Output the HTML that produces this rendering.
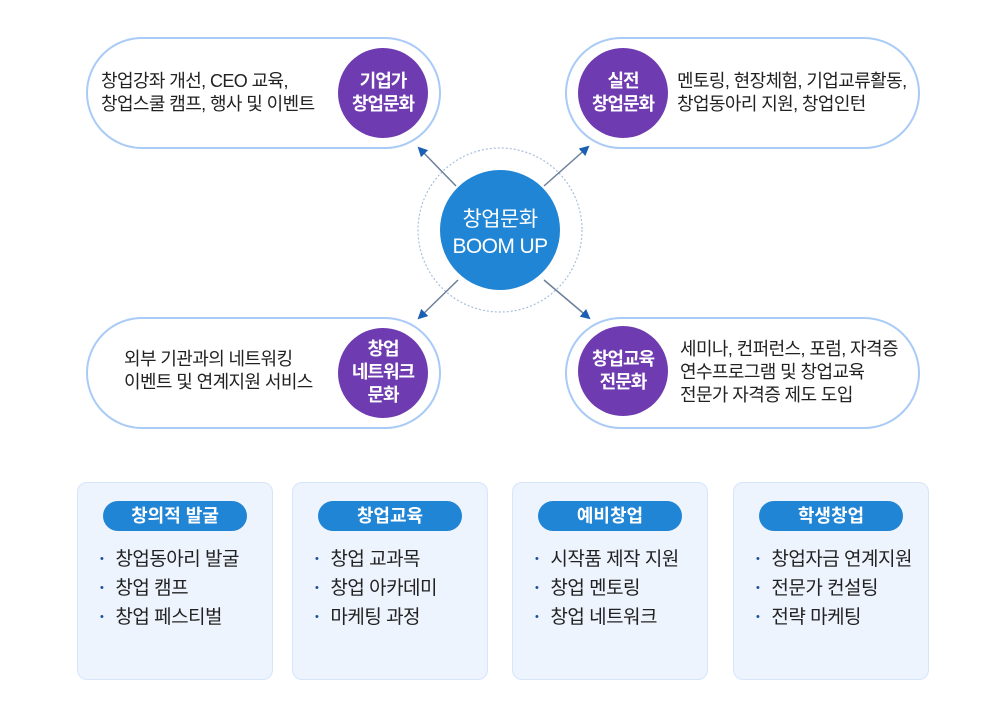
<!DOCTYPE html>
<html><head><meta charset="utf-8"><style>
html,body{margin:0;padding:0;background:#fff;}
body{width:1000px;height:720px;overflow:hidden;position:relative;font-family:"Liberation Sans","Noto Sans CJK KR",sans-serif;}
.t{position:absolute;font-size:18px;line-height:23px;color:#222;letter-spacing:-0.6px;white-space:nowrap;}
.box{position:absolute;top:482px;width:194px;height:196px;background:#eef4fe;border:1px solid #d6e5fa;border-radius:10px;}
.lab{position:absolute;left:25px;top:18px;width:144px;height:30px;border-radius:15px;background:#2185d5;color:#fff;font-size:18px;font-weight:bold;text-align:center;line-height:30px;}
.box ul{position:absolute;left:22px;top:62px;margin:0;padding:0;list-style:none;}
.box li{font-size:19px;line-height:28px;color:#222;white-space:nowrap;letter-spacing:-0.5px;}
.box li:before{content:"•";color:#1c4f9a;font-size:11px;margin-right:12px;vertical-align:3px;}
</style></head><body>
<svg width="1000" height="720" style="position:absolute;left:0;top:0">
<defs><marker id="a" markerWidth="10" markerHeight="10" refX="8" refY="5" orient="auto" markerUnits="userSpaceOnUse"><path d="M0,0 L10,5 L0,10 z" fill="#1a5fb4"/></marker></defs>
<g fill="#fff" stroke="#a9cbf5" stroke-width="2">
<rect x="87" y="38" width="353" height="110" rx="55"/>
<rect x="566" y="38" width="353" height="110" rx="55"/>
<rect x="87" y="318" width="353" height="110" rx="55"/>
<rect x="566" y="318" width="353" height="110" rx="55"/>
</g>
<g fill="#6f3bb0"><circle cx="383" cy="93" r="45"/><circle cx="623" cy="93" r="45"/><circle cx="383" cy="373" r="45"/><circle cx="623" cy="371" r="45"/></g>
<circle cx="500" cy="230" r="82" fill="none" stroke="#a9bfdc" stroke-width="1.2" stroke-dasharray="2,2"/>
<g stroke="#6b7f99" stroke-width="1.5" marker-end="url(#a)">
<line x1="456" y1="186" x2="419" y2="148"/>
<line x1="544" y1="186" x2="588" y2="147"/>
<line x1="458" y1="280" x2="419" y2="318"/>
<line x1="544" y1="280" x2="589" y2="318"/>
</g>
<circle cx="500" cy="230" r="60" fill="#2185d5"/>
</svg>
<div class="t" style="left:0;top:206px;width:1000px;text-align:center;color:#fff;font-size:21px;line-height:27px">창업문화<br>BOOM UP</div>
<div class="t" style="left:101px;top:70px">창업강좌 개선, CEO 교육,<br>창업스쿨 캠프, 행사 및 이벤트</div>
<div class="t" style="left:338px;top:70px;width:90px;text-align:center;color:#fff;font-weight:bold;letter-spacing:-1px">기업가<br>창업문화</div>
<div class="t" style="left:578px;top:70px;width:90px;text-align:center;color:#fff;font-weight:bold;letter-spacing:-1px">실전<br>창업문화</div>
<div class="t" style="left:677px;top:70px">멘토링, 현장체험, 기업교류활동,<br>창업동아리 지원, 창업인턴</div>
<div class="t" style="left:124px;top:348px">외부 기관과의 네트워킹<br>이벤트 및 연계지원 서비스</div>
<div class="t" style="left:338px;top:338px;width:90px;text-align:center;color:#fff;font-weight:bold;letter-spacing:-1px">창업<br>네트워크<br>문화</div>
<div class="t" style="left:578px;top:348px;width:90px;text-align:center;color:#fff;font-weight:bold;letter-spacing:-1px">창업교육<br>전문화</div>
<div class="t" style="left:680px;top:338px">세미나, 컨퍼런스, 포럼, 자격증<br>연수프로그램 및 창업교육<br>전문가 자격증 제도 도입</div>
<div class="box" style="left:77px"><div class="lab">창의적 발굴</div><ul><li>창업동아리 발굴</li><li>창업 캠프</li><li>창업 페스티벌</li></ul></div>
<div class="box" style="left:292px"><div class="lab">창업교육</div><ul><li>창업 교과목</li><li>창업 아카데미</li><li>마케팅 과정</li></ul></div>
<div class="box" style="left:512px"><div class="lab">예비창업</div><ul><li>시작품 제작 지원</li><li>창업 멘토링</li><li>창업 네트워크</li></ul></div>
<div class="box" style="left:733px"><div class="lab">학생창업</div><ul><li>창업자금 연계지원</li><li>전문가 컨설팅</li><li>전략 마케팅</li></ul></div>
</body></html>
